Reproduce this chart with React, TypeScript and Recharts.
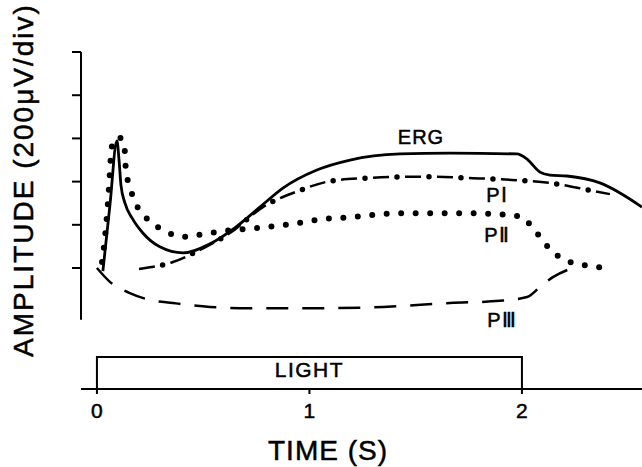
import { ComposedChart, Line, XAxis, YAxis, ReferenceLine, ReferenceArea, ReferenceDot } from "recharts";

// time in seconds, amplitude in divisions (200 µV/div)
const ergT = [0.028, 0.061, 0.094, 0.104, 0.113, 0.132, 0.165, 0.216, 0.296, 0.405, 0.532, 0.649, 0.767, 0.875, 1.035, 1.191, 1.426, 1.661, 1.976, 2.024, 2.085, 2.132, 2.212, 2.367, 2.565];
const ergV = [0.93, 2.45, 3.94, 3.5, 2.92, 2.5, 2.16, 1.81, 1.49, 1.35, 1.56, 1.93, 2.41, 2.85, 3.27, 3.5, 3.64, 3.66, 3.64, 3.52, 3.22, 3.15, 3.13, 2.97, 2.41];

const p1T = [0.198, 0.358, 0.485, 0.626, 0.781, 0.946, 1.096, 1.261, 1.426, 1.591, 1.769, 1.953, 2.132, 2.32, 2.414];
const p1V = [0.98, 1.14, 1.42, 1.81, 2.41, 2.78, 3.01, 3.08, 3.11, 3.11, 3.08, 3.04, 2.97, 2.8, 2.71];

const p2T = [0.024, 0.042, 0.056, 0.066, 0.075, 0.099, 0.122, 0.132, 0.136, 0.155, 0.179, 0.216, 0.264, 0.311, 0.367, 0.428, 0.499, 0.565, 0.64, 0.767, 0.918, 1.059, 1.2, 1.346, 1.487, 1.718, 1.864, 1.934, 2.0, 2.047, 2.085, 2.122, 2.169, 2.226, 2.287, 2.358, 2.428];
const p2V = [1.14, 1.93, 2.81, 3.62, 3.92, 4.03, 3.96, 3.66, 3.27, 2.88, 2.53, 2.25, 2.02, 1.88, 1.76, 1.72, 1.79, 1.83, 1.88, 1.93, 2.02, 2.13, 2.18, 2.25, 2.27, 2.27, 2.25, 2.23, 2.18, 1.95, 1.72, 1.49, 1.28, 1.14, 1.07, 1.02, 0.98];

const p3T = [0, 0.061, 0.155, 0.249, 0.358, 0.532, 0.72, 1.035, 1.346, 1.661, 1.896, 2.024, 2.085, 2.146, 2.226];
const p3V = [1.0, 0.68, 0.42, 0.26, 0.19, 0.1, 0.07, 0.07, 0.1, 0.19, 0.24, 0.33, 0.56, 0.79, 0.98];

const xTicks = [0, 1, 2];
const yTicks = [1, 2, 3, 4, 5, 6];
const lightOn = 0;
const lightOff = 2;

const curveLabels = [
  { text: "ERG", t: 1.525, v: 4.03 },
  { text: "PⅠ", t: 1.882, v: 2.69 },
  { text: "PⅡ", t: 1.882, v: 1.76 },
  { text: "PⅢ", t: 1.906, v: -0.2 },
];

const zip = (ts: number[], vs: number[]) => ts.map((t, i) => ({ t, v: vs[i] }));
const erg = zip(ergT, ergV);
const p1 = zip(p1T, p1V);
const p2 = zip(p2T, p2V);
const p3 = zip(p3T, p3V);

const FONT = "'Liberation Sans', Arial, Helvetica, sans-serif";
const ink = { fill: "#000", stroke: "#000", strokeWidth: 0.5, fontFamily: FONT };
const xMin = -0.075;

export default function App() {
  return (
    <div style={{ width: 642, height: 467, background: "#fff" }}>
      <style>{`body{margin:0;background:#fff}`}</style>
      <ComposedChart width={642} height={467} margin={{ top: 52, right: 0, bottom: 0, left: 0 }}>
        <XAxis
          dataKey="t"
          type="number"
          domain={[xMin, 2.565]}
          allowDataOverflow
          ticks={xTicks}
          height={78}
          tickSize={5}
          tickMargin={9}
          axisLine={{ stroke: "#000", strokeWidth: 2 }}
          tickLine={{ stroke: "#000", strokeWidth: 2 }}
          tick={{ ...ink, fontSize: 21 }}
          label={{
            content: () => (
              <text x={328} y={450} textAnchor="middle" dominantBaseline="central" {...ink} fontSize={28} letterSpacing={1}>
                TIME (S)
              </text>
            ),
          }}
        />
        <YAxis
          dataKey="v"
          type="number"
          domain={[-1.8, 6]}
          allowDataOverflow
          ticks={yTicks}
          width={81}
          tickSize={9}
          axisLine={false}
          tick={() => <g />}
          tickLine={{ stroke: "#000", strokeWidth: 2 }}
          label={{
            content: () => (
              <text x={23} y={180} transform="rotate(-90 23 180)" textAnchor="middle" dominantBaseline="central" {...ink} fontSize={28} letterSpacing={2}>
                AMPLITUDE (200μV/div)
              </text>
            ),
          }}
        />
        <ReferenceLine segment={[{ x: xMin, y: -0.2 }, { x: xMin, y: 6 }]} stroke="#000" strokeWidth={2} ifOverflow="visible" />
        <ReferenceArea
          x1={lightOn}
          x2={lightOff}
          y1={-1.8}
          y2={-1.06}
          fill="none"
          stroke="#000"
          strokeWidth={2}
          ifOverflow="visible"
          label={{ value: "LIGHT", position: "center", ...ink, fontSize: 21, letterSpacing: 1.5, dy: -3 }}
        />
        <Line data={erg} dataKey="v" type="monotone" stroke="#000" strokeWidth={2.8} dot={false} activeDot={false} isAnimationActive={false} legendType="none" />
        <Line data={p1} dataKey="v" type="monotone" stroke="#000" strokeWidth={2.5} strokeDasharray="16 16" dot={false} activeDot={false} isAnimationActive={false} legendType="none" />
        <Line data={p1} dataKey="v" type="monotone" stroke="#000" strokeWidth={5.5} strokeLinecap="round" strokeDasharray="0 32" strokeDashoffset={-24} dot={false} activeDot={false} isAnimationActive={false} legendType="none" />
        <Line data={p2} dataKey="v" type="monotone" stroke="#000" strokeWidth={6} strokeLinecap="round" strokeDasharray="0 14.5" dot={false} activeDot={false} isAnimationActive={false} legendType="none" />
        <Line data={p3} dataKey="v" type="monotone" stroke="#000" strokeWidth={2.5} strokeDasharray="22 14" dot={false} activeDot={false} isAnimationActive={false} legendType="none" />
        {curveLabels.map((l) => (
          <ReferenceDot
            key={l.text}
            x={l.t}
            y={l.v}
            r={0}
            fill="none"
            stroke="none"
            ifOverflow="visible"
            label={{ value: l.text, position: "center", ...ink, fontSize: 20, letterSpacing: 1 }}
          />
        ))}
      </ComposedChart>
    </div>
  );
}
